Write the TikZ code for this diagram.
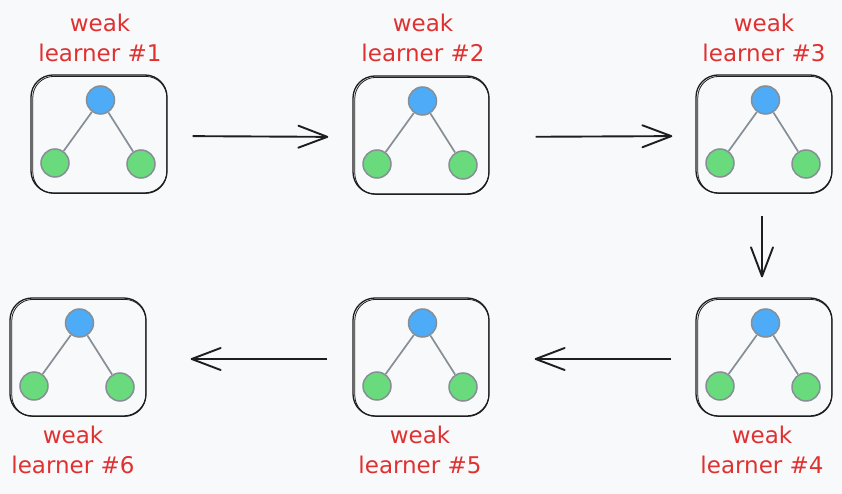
\documentclass[tikz,border=0pt]{standalone}
\usepackage{fontspec}
\setmainfont{DejaVu Sans}
\usetikzlibrary{arrows.meta}
\definecolor{bgc}{HTML}{F8F9FB}
\definecolor{inkc}{HTML}{1E1E1E}
\definecolor{bluec}{HTML}{4DABF7}
\definecolor{greenc}{HTML}{69DB7C}
\definecolor{greyc}{HTML}{868E96}
\definecolor{redc}{HTML}{E03131}
\pgfdeclarearrow{
  name=VBarb,
  parameters={\the\pgfarrowlength,\the\pgfarrowwidth},
  setup code={%
    \pgfarrowssettipend{0pt}%
    \pgfarrowssetlineend{-0.5\pgflinewidth}%
    \pgfarrowssetbackend{-\pgfarrowlength}%
    \pgfarrowssavethe\pgfarrowlength
    \pgfarrowssavethe\pgfarrowwidth},
  drawing code={%
    \pgfsetdash{}{0pt}\pgfsetroundcap\pgfsetroundjoin
    \pgfpathmoveto{\pgfqpoint{-\pgfarrowlength}{.5\pgfarrowwidth}}%
    \pgfpathlineto{\pgfpointorigin}%
    \pgfpathlineto{\pgfqpoint{-\pgfarrowlength}{-.5\pgfarrowwidth}}%
    \pgfusepathqstroke},
  defaults={length=28pt, width=22pt}
}
\tikzset{
  wbox/.style={draw=inkc, line width=1.3pt, rounded corners=22pt, minimum width=136pt, minimum height=118pt, inner sep=0pt},
  wboxtwo/.style={draw=inkc, line width=0.8pt, rounded corners=21pt, minimum width=134pt, minimum height=117pt, inner sep=0pt},
  rootn/.style={circle, draw=greyc, line width=1.5pt, fill=bluec, minimum size=28pt, inner sep=0pt},
  leafn/.style={circle, draw=greyc, line width=1.5pt, fill=greenc, minimum size=28pt, inner sep=0pt},
  tedge/.style={draw=greyc, line width=1.7pt},
  arr/.style={draw=inkc, line width=1.9pt, -{VBarb[length=29pt, width=22pt]}},
  lbl/.style={text=redc, font=\fontsize{23}{29.5}\selectfont, align=center, inner sep=0pt}
}
\newcommand\wlbox[3]{%
  \node[wbox] (#1) at (#2,#3) {};
  \node[wboxtwo] (#1s) at ([shift={(0.8,0.9)}]#1.center) {};
  \node[rootn] (#1r) at ([shift={(1.5,-34)}]#1.center) {};
  \node[leafn] (#1a) at ([shift={(-44,29)}]#1.center) {};
  \node[leafn] (#1b) at ([shift={(42,30)}]#1.center) {};
  \draw[tedge] (#1r) -- (#1a);
  \draw[tedge] (#1r) -- (#1b);
}
\begin{document}
\begin{tikzpicture}[x=1pt,y=-1pt]
\fill[bgc] (0,0) rectangle (842,494);
\useasboundingbox (0,0) rectangle (842,494);
\wlbox{wa}{99}{134}
\wlbox{wb}{421}{135}
\wlbox{wc}{764}{134}
\wlbox{wd}{764}{357}
\wlbox{we}{421}{357}
\wlbox{wf}{78}{357}
\node[lbl] (la) at (100,38) {weak\\learner \#1};
\node[lbl] (lb) at (423,38) {weak\\learner \#2};
\node[lbl] (lc) at (764,38) {weak\\learner \#3};
\node[lbl] (ld) at (762,450) {weak\\learner \#4};
\node[lbl] (le) at (420,450) {weak\\learner \#5};
\node[lbl] (lf) at (73,450) {weak\\learner \#6};
\draw[arr, shorten <=25pt, shorten >=25pt] ([yshift=-2pt]wa.east) -- ([yshift=-2pt]wb.west);
\draw[arr, shorten <=46pt, shorten >=24pt] ([yshift=-2pt]wb.east) -- ([yshift=-2pt]wc.west);
\draw[arr, shorten <=22pt, shorten >=21pt] ([xshift=-2pt]wc.south) -- ([xshift=-2pt]wd.north);
\draw[arr, shorten <=24pt, shorten >=46pt] ([yshift=-2pt]wd.west) -- ([yshift=-2pt]we.east);
\draw[arr, shorten <=25pt, shorten >=45pt] ([yshift=-2pt]we.west) -- ([yshift=-2pt]wf.east);
\end{tikzpicture}
\end{document}
